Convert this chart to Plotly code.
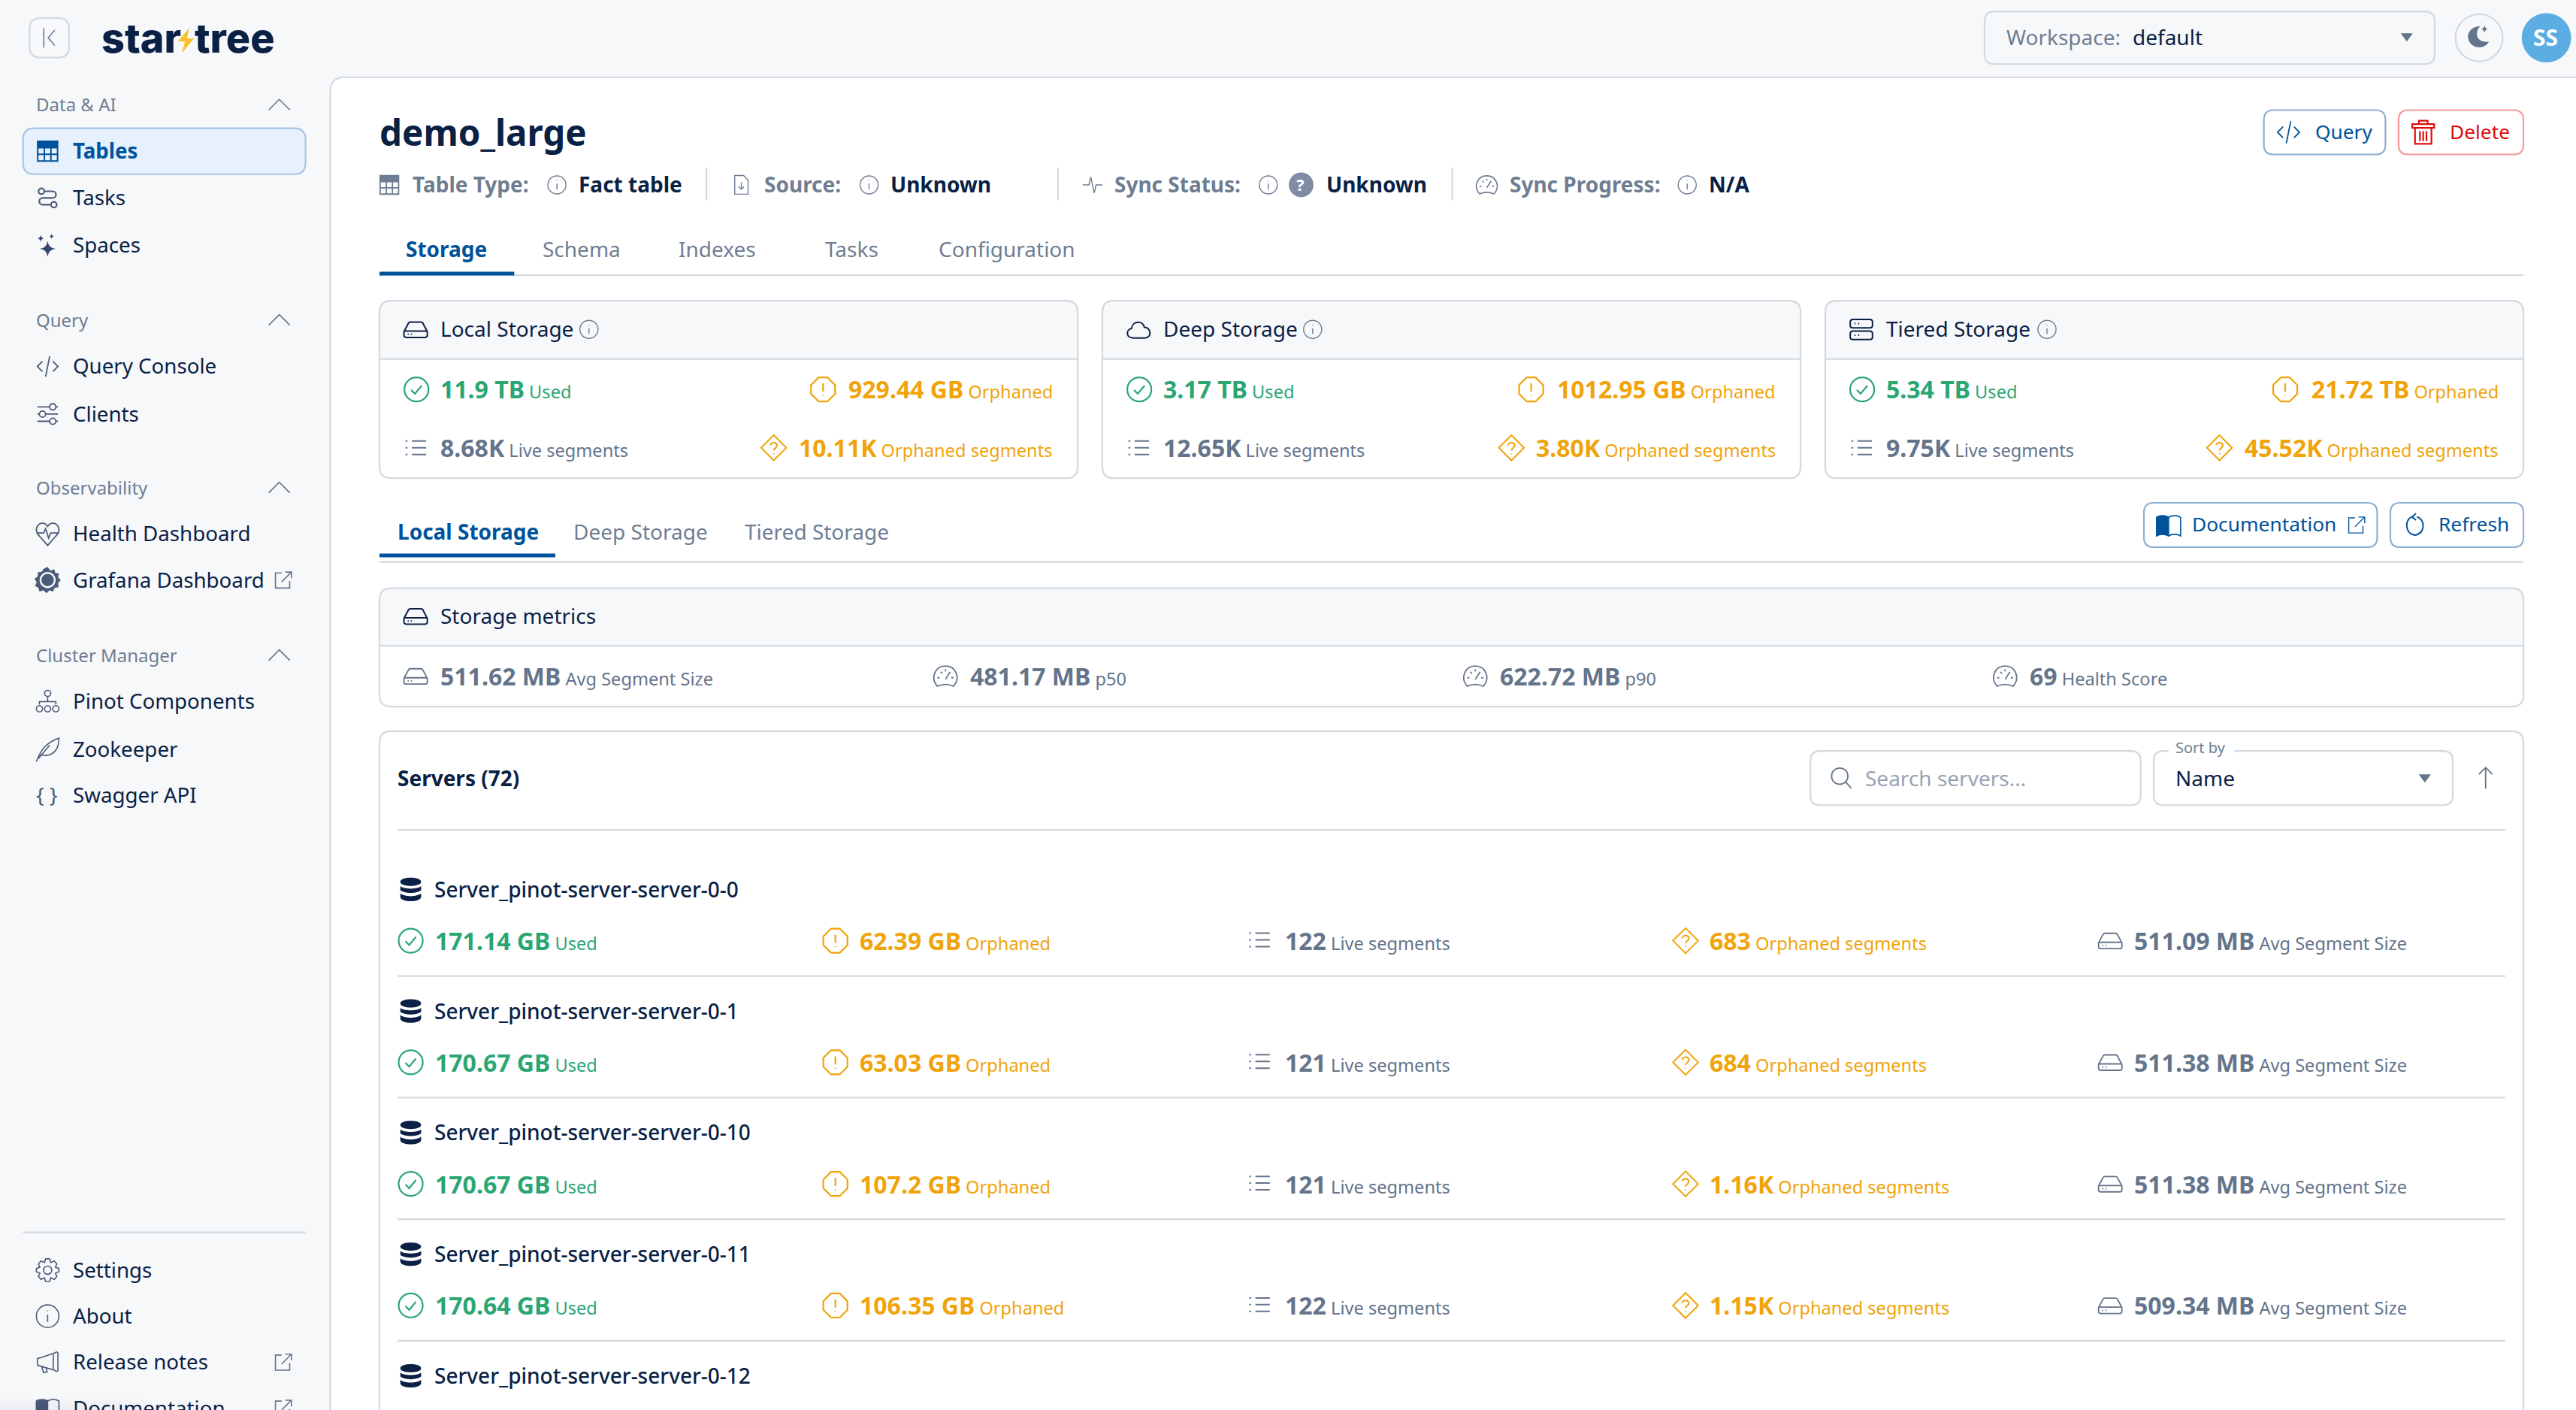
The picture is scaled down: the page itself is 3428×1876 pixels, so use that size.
import re
import plotly.graph_objects as go

# ---------- content ----------
WORKSPACE = "default"
TITLE = "demo_large"
NAV_DATA = ["Tables", "Tasks", "Spaces"]
NAV_QUERY = ["Query Console", "Clients"]
NAV_OBS = ["Health Dashboard", "Grafana Dashboard"]
NAV_CLUSTER = ["Pinot Components", "Zookeeper", "Swagger API"]
NAV_FOOT = ["Settings", "About", "Release notes", "Documentation"]
SECTIONS = ["Data & AI", "Query", "Observability", "Cluster Manager"]
TABS = ["Storage", "Schema", "Indexes", "Tasks", "Configuration"]
SUBTABS = ["Local Storage", "Deep Storage", "Tiered Storage"]
CARD_TITLES = ["Local Storage", "Deep Storage", "Tiered Storage"]
CARD_USED = ["11.9 TB", "3.17 TB", "5.34 TB"]
CARD_ORPHANED = ["929.44 GB", "1012.95 GB", "21.72 TB"]
CARD_LIVE = ["8.68K", "12.65K", "9.75K"]
CARD_ORPH_SEG = ["10.11K", "3.80K", "45.52K"]
METRIC_VALUES = ["511.62 MB", "481.17 MB", "622.72 MB", "69"]
METRIC_LABELS = ["Avg Segment Size", "p50", "p90", "Health Score"]
SERVER_NAMES = ["Server_pinot-server-server-0-0", "Server_pinot-server-server-0-1",
                "Server_pinot-server-server-0-10", "Server_pinot-server-server-0-11",
                "Server_pinot-server-server-0-12"]
SERVER_USED = ["171.14 GB", "170.67 GB", "170.67 GB", "170.64 GB"]
SERVER_ORPHANED = ["62.39 GB", "63.03 GB", "107.2 GB", "106.35 GB"]
SERVER_LIVE = ["122", "121", "121", "122"]
SERVER_ORPH_SEG = ["683", "684", "1.16K", "1.15K"]
SERVER_AVG = ["511.09 MB", "511.38 MB", "511.38 MB", "509.34 MB"]

# ---------- style ----------
W, H = 3428, 1876
S = W / 1568
FONT = "Noto Sans"
BG = "#F7F8FA"
LINE = "#D2D9E0"
NAVY = "#0A2145"
GREY = "#64748B"
MUTED = "#6F7D92"
ICON = "#4A5B78"
GREEN = "#2BA673"
ORANGE = "#F0A30A"
BLUE = "#00529B"
RED = "#E00B0B"
NAV = 27.7

shapes, notes = [], []


def T(x, y, text, size=28, color=NAVY, anchor="left", bold=False, weight=None, family=FONT):
    s = f"<b>{text}</b>" if bold else text
    font = dict(family=family, size=size, color=color)
    if weight:
        font["weight"] = weight
    notes.append(dict(x=(x - 0.3) * S, y=(y - 0.5) * S, xref="x", yref="y", text=s, showarrow=False,
                      xanchor=anchor, yanchor="middle", font=font, borderpad=0))


def M(x, y, value, label, color, anchor="left"):
    T(x, y, f'<b>{value}</b><span style="font-size:23.6px"> {label}</span>', 32, color, anchor)


def O(cx, cy, r, ry=None):
    ry = ry or r
    k = 0.5523
    return (f"M{cx-r} {cy} C{cx-r} {cy-k*ry} {cx-k*r} {cy-ry} {cx} {cy-ry} "
            f"C{cx+k*r} {cy-ry} {cx+r} {cy-k*ry} {cx+r} {cy} "
            f"C{cx+r} {cy+k*ry} {cx+k*r} {cy+ry} {cx} {cy+ry} "
            f"C{cx-k*r} {cy+ry} {cx-r} {cy+k*ry} {cx-r} {cy} Z ")


def ic(d, cx, cy, size, color, w=2.2, fill=None):
    k = size * S / 24
    x0, y0 = cx * S - 12 * k, cy * S - 12 * k
    out, ix = [], 0
    for t in re.findall(r"[MLCQZ]|-?\d*\.?\d+", d):
        if t in "MLCQZ":
            out.append(t)
            ix = 0
        else:
            v = float(t)
            out.append(f"{(x0 + v * k) if ix % 2 == 0 else (y0 + v * k):.2f}")
            ix += 1
    shapes.append(dict(type="path", path=" ".join(out), xref="x", yref="y",
                       line=dict(color=color, width=w) if w else dict(width=0),
                       fillcolor=fill or "rgba(0,0,0,0)", layer="above"))


def rr(x0, y0, x1, y1, r=7, line=LINE, fill=None, w=2.2, top_only=False, bottom_open=False):
    x0, y0, x1, y1, r = x0 * S, y0 * S, x1 * S, y1 * S, r * S
    if bottom_open:
        p = (f"M{x0} {y1} L{x0} {y0+r} Q{x0} {y0} {x0+r} {y0} L{x1-r} {y0} "
             f"Q{x1} {y0} {x1} {y0+r} L{x1} {y1}")
    elif top_only:
        p = (f"M{x0} {y1} L{x0} {y0+r} Q{x0} {y0} {x0+r} {y0} L{x1-r} {y0} "
             f"Q{x1} {y0} {x1} {y0+r} L{x1} {y1} Z")
    else:
        p = (f"M{x0+r} {y0} L{x1-r} {y0} Q{x1} {y0} {x1} {y0+r} L{x1} {y1-r} Q{x1} {y1} {x1-r} {y1} "
             f"L{x0+r} {y1} Q{x0} {y1} {x0} {y1-r} L{x0} {y0+r} Q{x0} {y0} {x0+r} {y0} Z")
    shapes.append(dict(type="path", path=p, xref="x", yref="y",
                       line=dict(color=line, width=w) if line else dict(width=0),
                       fillcolor=fill or "rgba(0,0,0,0)", layer="above"))


def hl(x0, x1, y, color=LINE, w=2.2):
    shapes.append(dict(type="line", x0=x0 * S, x1=x1 * S, y0=y * S, y1=y * S, xref="x", yref="y",
                       line=dict(color=color, width=w), layer="above"))


def vl(x, y0, y1, color=LINE, w=2.2):
    shapes.append(dict(type="line", x0=x * S, x1=x * S, y0=y0 * S, y1=y1 * S, xref="x", yref="y",
                       line=dict(color=color, width=w), layer="above"))


CHECK = O(12, 12, 11) + "M7.2 12.5 L10.6 16 L16.8 8.5"
OCT = "M8 1 L16 1 L23 8 L23 16 L16 23 L8 23 L1 16 L1 8 Z M12 6.5 L12 14 M12 17 L12 17.8"
DIA = ("M12 0.5 L23.5 12 L12 23.5 L0.5 12 Z M9 9.8 C9 6.5 15 6.5 15 10 C15 12 12 12.5 12 14.5 M12 17 L12 17.8")
LST = "M8 5 L23 5 M8 12 L23 12 M8 19 L23 19 M1.5 5 L3.5 5 M1.5 12 L3.5 12 M1.5 19 L3.5 19"
DISK = ("M1 14 L5 6.5 Q5.5 5 7 5 L17 5 Q18.5 5 19 6.5 L23 14 L23 17.5 Q23 19.5 21 19.5 L3 19.5 "
        "Q1 19.5 1 17.5 Z M1 13.5 L23 13.5 M4.5 16.5 L5.5 16.5 M7.5 16.5 L8.5 16.5")
GAUGE = ("M4.5 21.5 C-2.5 14 2 2.5 12 2.5 C22 2.5 26.5 14 19.5 21.5 Q12 18 4.5 21.5 Z M12 15 L16.5 8 "
         "M4.5 13.5 L6.5 13.5 M17.5 13.5 L19.5 13.5 M7.5 8 L9 9.5 M12 5.5 L12 7.5")
INFO = O(12, 12, 11) + "M12 10.5 L12 17.5 M12 6.5 L12 7.3"
DB = ("M2.5 5.5 C2.5 .5 21.5 .5 21.5 5.5 C21.5 10.5 2.5 10.5 2.5 5.5 Z M2.5 9.5 C6 12.5 18 12.5 21.5 9.5 L21.5 13 "
      "C18 16.5 6 16.5 2.5 13 Z M2.5 16 C6 19.5 18 19.5 21.5 16 L21.5 19 C21.5 24.5 2.5 24.5 2.5 19 Z")
GRID = "M2 2 L22 2 L22 22 L2 22 Z M2 8.5 L22 8.5 M2 15.2 L22 15.2 M8.7 2 L8.7 22 M15.3 2 L15.3 22"
GRID_TOP = "M2 2 L22 2 L22 8.5 L2 8.5 Z"
TASKS = (O(5.5, 5, 3) + O(18.5, 19, 3) + "M8.5 5 L17 5 C22 5 22 12 17 12 L7 12 C2 12 2 19 7 19 L15.5 19")
SPARK = ("M12 8 Q13 15.5 20 16 Q13 16.5 12 24 Q11 16.5 4 16 Q11 15.5 12 8 Z "
         "M5 2 Q5.5 5 8 5.5 Q5.5 6 5 9 Q4.5 6 2 5.5 Q4.5 5 5 2 Z M16 1 Q16.3 3 18 3.5 Q16.3 4 16 6 Q15.7 4 14 3.5 Q15.7 3 16 1 Z")
CODE = "M7 7 L2 12 L7 17 M17 7 L22 12 L17 17 M14 2 L10 22"
SLIDE = ("M2 5 L14 5 M20 5 L22 5 " + O(17, 5, 3) + "M2 12 L4 12 M10 12 L22 12 " + O(7, 12, 3) +
         "M2 19 L14 19 M20 19 L22 19 " + O(17, 19, 3))
HEART = ("M12 23 L4 14 C-2 8 2 1 8 1.5 C10 2 11 3 12 4.5 C13 3 14 2 16 1.5 C22 1 26 8 20 14 Z "
         "M1 11 L8 11 L10 7 L13 16 L15 11 L23 11")
GRAF_BODY = ("M12 0 L14.5 3.5 L18 2 L19 5.5 L22.5 6 L21.5 9.5 L24 12 L21.5 15 L22 18.5 L18.5 19 L17 22.5 "
             "L13.5 21.5 L11 24 L8 21.5 L4.5 22.5 L3.5 19 L0.5 17.5 L2 14 L0 11 L3 8.5 L3 5 L6.5 4.5 L8.5 1.5 Z")
NODES = (O(12, 4, 3) + "M12 7 L12 12 M4 15 L4 12 L20 12 L20 15 " + O(4, 19, 3) + O(12, 19, 3) + O(20, 19, 3))
FEATHER = ("M1 24 C5 14 9 6 23 1 C23 10 20 17 10 18 C8 18 6 18 5 17 M14 8 L3 21")
GEAR = (O(12, 12, 4) + "M10 1 L14 1 L15 4.5 L18.5 3 L21 6 L19.5 9 L23 10.5 L23 13.5 L19.5 15 L21 18 L18.5 21 "
        "L15 19.5 L14 23 L10 23 L9 19.5 L5.5 21 L3 18 L4.5 15 L1 13.5 L1 10.5 L4.5 9 L3 6 L5.5 3 L9 4.5 Z")
MEGA = "M2 9 Q2 8 4 8 L19 3 Q21 1 22 3 L22 20 Q21 22 19 20 L4 15.5 Q2 15.5 2 14 Z M6 16 L8 22 L11.5 21.5 L10.5 17.5 M17.5 3.5 L17.5 19.5"
EXT = "M11 4 L4 4 L4 21 L20 21 L20 13 M15 3 L22 3 L22 10 M22 3 L11 14"
BOOK_L = "M1 5 C4 3 9 3 12 5 L12 22 C9 20 4 20 1 22 Z"
BOOK_R = "M12 5 C15 3 20 3 23 5 L23 22 C20 20 15 20 12 22"
FILEI = "M5 1.5 L15 1.5 L20 6.5 L20 22.5 L5 22.5 Z M12.5 9 L12.5 17 M9.5 14 L12.5 17 L15.5 14"
PULSE = "M1 12 L8 12 L10 3 L14 21 L16 12 L23 12"
CLOUD = "M7 20 C0 20 0 12 5.5 11 C6 4 16 3 17.5 10 C24 10 25 20 18 20 Z"
TIER = ("M4 2.5 L20 2.5 Q22.5 2.5 22.5 5 L22.5 8 Q22.5 10.5 20 10.5 L4 10.5 Q1.5 10.5 1.5 8 L1.5 5 Q1.5 2.5 4 2.5 Z "
        "M4 13.5 L20 13.5 Q22.5 13.5 22.5 16 L22.5 19 Q22.5 21.5 20 21.5 L4 21.5 Q1.5 21.5 1.5 19 L1.5 16 Q1.5 13.5 4 13.5 Z "
        "M5.5 6.5 L6.5 6.5 M9 6.5 L10 6.5 M5.5 17.5 L6.5 17.5 M9 17.5 L10 17.5")
CHEV = "M1 17 L12 6 L23 17"
CARET = "M4 7 L20 7 L12 18 Z"
SEARCH = O(10, 10, 8.5) + "M16.5 16.5 L22 22.5"
ARROW = "M12 1 L12 23 M5 8 L12 1 L19 8"
REFRESH = "M9 3.5 C1 6 1 21 12 22.5 C23 21 23 6 14 3.5 M13 0 L9 3.5 L13 7"
TRASH = ("M2 4.5 L22 4.5 L22 8 L2 8 Z M8 4.5 L8 1.5 L16 1.5 L16 4.5 M4.5 8 L4.5 22.5 L19.5 22.5 L19.5 8 "
         "M9 11 L9 20 M12 11 L12 20 M15 11 L15 20")
MOON = ("M13 3 C5 3 1 9 2 14 C3 20 9 23 14 22 C18 21 20 19 21 17 C15 18 10 15 10 10 C10 7 11 5 13 3 Z "
        "M17 2 Q17.5 5 20 5.5 Q17.5 6 17 9 Q16.5 6 14 5.5 Q16.5 5 17 2 Z")
COLLAPSE = "M7 3 L7 21 M17 5 L11 12 L17 19"
BOLT = "M15 0 L4 13 L11 13 L8 24 L20 10 L13 10 Z"

# ---------- frame ----------
rr(201, 47, 1700, 900, r=9, fill="#FFFFFF")

# ---------- top bar ----------
rr(18, 11, 42, 35, r=6.5, line="#D2D9E0", fill="#F8F9FB")
ic(COLLAPSE, 30, 23, 16, MUTED, 1.6)
T(61.5, 23.5, "star", 54, NAVY, weight=800, family="Inter")
ic(BOLT, 113.2, 24.7, 15, "#FBC02D", 0, "#FBC02D")
T(118.3, 23.5, "tree", 54, NAVY, weight=800, family="Inter")

rr(1208, 7, 1482, 39, r=6)
T(1221, 23, "Workspace:", 28, MUTED)
T(1298, 23, WORKSPACE, 28, NAVY)
ic(CARET, 1465, 22.5, 11, GREY, 0, GREY)
ic(O(12, 12, 11.5), 1509, 23, 30, LINE, 2.2)
ic(MOON, 1509, 22, 16, GREY, 0, GREY)
ic(O(12, 12, 12), 1550, 23, 30, "#5BADE4", 0, "#5BADE4")
T(1550, 23, "SS", 30, "#FFFFFF", "center", bold=True)

# ---------- sidebar ----------
rr(14, 78, 186, 106, r=7, line="#A8C4E6", fill="#E6F1FD")
for y, s in zip([64, 195, 297, 399], SECTIONS):
    T(22, y, s, 24, MUTED)
    ic(CHEV, 170, y, 14, GREY, 1.6)

ic(GRID_TOP, 29, 92, 14.5, BLUE, 1, BLUE)
ic(GRID, 29, 92, 14.5, BLUE, 2)
T(44, 92, NAV_DATA[0], NAV, BLUE, bold=True)
ic(TASKS, 29, 120.5, 14, ICON, 2.2)
T(44, 120.5, NAV_DATA[1], NAV)
ic(SPARK, 29, 149, 14.5, "#34466B", 0, "#34466B")
T(44, 149, NAV_DATA[2], NAV)
ic(CODE, 29, 223, 15, ICON, 1.8)
T(44, 223, NAV_QUERY[0], NAV)
ic(SLIDE, 29, 252, 15, ICON, 1.8)
T(44, 252, NAV_QUERY[1], NAV)
ic(HEART, 29, 325, 15, ICON, 1.8)
T(44, 325, NAV_OBS[0], NAV)
ic(GRAF_BODY, 29, 353, 16, ICON, 0, ICON)
ic(O(12, 12, 6.5), 29, 353, 16, BG, 2.4)
ic(O(12.5, 12.5, 3), 29, 353, 16, ICON, 2)
T(44, 353, NAV_OBS[1], NAV)
ic(EXT, 172, 353, 13, GREY, 1.6)
ic(NODES, 29, 427, 15, ICON, 1.6)
T(44, 427, NAV_CLUSTER[0], NAV)
ic(FEATHER, 29, 456, 15, ICON, 1.6)
T(44, 456, NAV_CLUSTER[1], NAV)
T(29, 484, "{ }", 28, ICON, "center")
T(44, 484, NAV_CLUSTER[2], NAV)
hl(14, 186, 750)
ic(GEAR, 29, 773, 15, ICON, 1.6)
T(44, 773, NAV_FOOT[0], NAV)
ic(INFO, 29, 801, 15, ICON, 1.6)
T(44, 801, NAV_FOOT[1], NAV)
ic(MEGA, 29, 829, 15, ICON, 1.6)
T(44, 829, NAV_FOOT[2], NAV)
ic(EXT, 172, 829, 13, GREY, 1.6)
ic(BOOK_L, 29, 857, 15, ICON, 1.6, ICON)
ic(BOOK_R, 29, 857, 15, ICON, 1.6)
T(44, 857, NAV_FOOT[3], NAV)
ic(EXT, 172, 857, 13, GREY, 1.6)

# ---------- header ----------
T(231, 81, TITLE, 47.5, NAVY, bold=True)
rr(1378, 67, 1452, 94, r=6, line="#8FAFD2")
ic(CODE, 1393, 80.5, 16, BLUE, 1.8)
T(1409, 80.5, "Query", 26.3, BLUE)
rr(1460, 67, 1536, 94, r=6, line="#F59A9A")
ic(TRASH, 1475, 80.5, 16, RED, 2.2)
T(1491, 80.5, "Delete", 26.3, RED)

hdr_y = 112.5
ic(GRID_TOP, 237, hdr_y, 13.5, MUTED, 1, MUTED)
ic(GRID, 237, hdr_y, 13.5, MUTED, 1.8)
T(251, hdr_y, "Table Type:", 28, MUTED, bold=True)
ic(INFO, 339, hdr_y, 12, MUTED, 1.4)
T(352, hdr_y, "Fact table", 28, NAVY, bold=True)
vl(430, 102, 122)
ic(FILEI, 451, hdr_y, 13, MUTED, 1.4)
T(465, hdr_y, "Source:", 28, MUTED, bold=True)
ic(INFO, 529, hdr_y, 12, MUTED, 1.4)
T(542, hdr_y, "Unknown", 28, NAVY, bold=True)
vl(644, 102, 122)
ic(PULSE, 665, hdr_y, 13, MUTED, 1.4)
T(678, hdr_y, "Sync Status:", 28, MUTED, bold=True)
ic(INFO, 772, hdr_y, 12, MUTED, 1.4)
ic(O(12, 12, 12), 792, hdr_y, 15, "#7F8CA3", 0, "#7F8CA3")
T(792, hdr_y, "?", 22, "#FFFFFF", "center", bold=True)
T(807, hdr_y, "Unknown", 28, NAVY, bold=True)
vl(884, 102, 122)
ic(GAUGE, 905, hdr_y, 14, MUTED, 1.6)
T(919, hdr_y, "Sync Progress:", 28, MUTED, bold=True)
ic(INFO, 1027, hdr_y, 12, MUTED, 1.4)
T(1040, hdr_y, "N/A", 28, NAVY, bold=True)

# ---------- tabs ----------
for i, (x, s) in enumerate(zip([247, 330, 413, 502, 571], TABS)):
    T(x, 152, s, 28, BLUE if i == 0 else MUTED, bold=i == 0)
hl(231, 1536, 167.5)
hl(231, 313, 166.5, BLUE, 5)

# ---------- summary cards ----------
card_x = [231, 671, 1111]
card_icons = [DISK, CLOUD, TIER]
card_titles_w = [358.5, 799, 1246]
left_alert = [501, 932, 1391]
left_seg = [471, 920, 1351]
for i, x in enumerate(card_x):
    x1 = x + 425
    rr(x, 183, x1, 218.5, r=7, line=None, fill=BG, top_only=True)
    rr(x, 183, x1, 291, r=7)
    hl(x, x1, 218.5)
    ic(card_icons[i], x + 22, 200.5, 15.5, NAVY, 2)
    T(x + 37, 200.5, CARD_TITLES[i], 28)
    ic(INFO, card_titles_w[i], 200.5, 12, MUTED, 1.4)
    ic(CHECK, x + 22.5, 237, 16, GREEN, 2.2)
    M(x + 37, 237, CARD_USED[i], "Used", GREEN)
    ic(OCT, left_alert[i], 237, 16, ORANGE, 2.2)
    M(x1 - 14.5, 237, CARD_ORPHANED[i], "Orphaned", ORANGE, "right")
    ic(LST, x + 22, 272.5, 14, GREY, 2)
    M(x + 37, 273, CARD_LIVE[i], "Live segments", GREY)
    ic(DIA, left_seg[i], 272.5, 16, ORANGE, 2)
    M(x1 - 14.5, 273, CARD_ORPH_SEG[i], "Orphaned segments", ORANGE, "right")

# ---------- sub tabs ----------
for i, (x, s) in enumerate(zip([242, 349, 453], SUBTABS)):
    T(x, 324, s, 28, BLUE if i == 0 else MUTED, bold=i == 0)
hl(231, 1536, 342)
hl(231, 338, 338, BLUE, 5)
rr(1305, 306, 1447, 333, r=6, line="#8FAFD2")
ic(BOOK_L, 1320, 319.5, 16, BLUE, 1.6, BLUE)
ic(BOOK_R, 1320, 319.5, 16, BLUE, 1.6)
T(1334, 319.5, "Documentation", 26.3, BLUE)
ic(EXT, 1434, 319.5, 13, BLUE, 1.4)
rr(1455, 306, 1536, 333, r=6, line="#8FAFD2")
ic(REFRESH, 1470, 319.5, 14, BLUE, 2)
T(1484, 319.5, "Refresh", 26.3, BLUE)

# ---------- storage metrics ----------
rr(231, 358, 1536, 393, r=7, line=None, fill=BG, top_only=True)
rr(231, 358, 1536, 430, r=7)
hl(231, 1536, 393)
ic(DISK, 253, 375, 15.5, NAVY, 2)
T(268, 375, "Storage metrics", 28)
for x, ico, v, l in zip([253, 575.5, 898, 1220.5], [DISK, GAUGE, GAUGE, GAUGE], METRIC_VALUES, METRIC_LABELS):
    ic(ico, x, 411.5, 15.5, GREY, 1.8)
    M(x + 15, 412, v, l, GREY)

# ---------- servers ----------
rr(231, 445, 1536, 900, r=7, bottom_open=True)
T(242, 474, "Servers (72)", 28, NAVY, bold=True)
hl(242, 1525, 505)
rr(1102, 457, 1303, 490, r=6)
ic(SEARCH, 1121, 473.5, 14, GREY, 1.8)
T(1135, 474, "Search servers...", 28, "#97A3B4")
rr(1311, 457, 1493, 490, r=6)
shapes.append(dict(type="rect", x0=1320 * S, x1=1360 * S, y0=455 * S, y1=459 * S, xref="x", yref="y",
                   fillcolor="#FFFFFF", line=dict(width=0), layer="above"))
T(1324, 455.5, "Sort by", 20, MUTED)
T(1324, 474, "Name", 28)
ic(CARET, 1476, 473.5, 11, GREY, 0, GREY)
ic(ARROW, 1513, 473.5, 14, GREY, 1.8)

name_ys = [541.5, 615.5, 689.5, 763.5, 837.5]
for y, s in zip(name_ys, SERVER_NAMES):
    ic(DB, 250, y - 0.5, 16, NAVY, 0, NAVY)
    T(264, y, s, 28, weight=500)
for i in range(4):
    y = name_ys[i] + 31.5
    ic(CHECK, 250, y - .5, 16, GREEN, 2.2)
    M(264.5, y, SERVER_USED[i], "Used", GREEN)
    ic(OCT, 508.5, y - .5, 16, ORANGE, 2.2)
    M(523, y, SERVER_ORPHANED[i], "Orphaned", ORANGE)
    ic(LST, 766.5, y - 1, 14, GREY, 2)
    M(782, y, SERVER_LIVE[i], "Live segments", GREY)
    ic(DIA, 1026, y - .5, 16, ORANGE, 2)
    M(1040.5, y, SERVER_ORPH_SEG[i], "Orphaned segments", ORANGE)
    ic(DISK, 1284.5, y - .5, 15.5, GREY, 1.8)
    M(1299, y, SERVER_AVG[i], "Avg Segment Size", GREY)
    hl(242, 1525, y + 21)

# faint shadow at the bottom of the sidebar
for x1, y0 in [(90, 851), (75, 853), (60, 855)]:
    shapes.append(dict(type="rect", x0=0, x1=x1 * S, y0=y0 * S, y1=H, xref="x", yref="y",
                       fillcolor="rgba(30,40,60,0.012)", line=dict(width=0), layer="above"))

fig = go.Figure()
fig.update_layout(
    width=W, height=H, margin=dict(l=0, r=0, t=0, b=0), autosize=False,
    paper_bgcolor=BG, plot_bgcolor=BG, showlegend=False,
    xaxis=dict(range=[0, W], visible=False, fixedrange=True),
    yaxis=dict(range=[H, 0], visible=False, fixedrange=True),
    shapes=shapes, annotations=notes, font=dict(family=FONT),
)
fig.write_html("out.html", config=dict(displayModeBar=False),
               post_script="document.body.style.margin='0';document.body.style.overflow='hidden';")
